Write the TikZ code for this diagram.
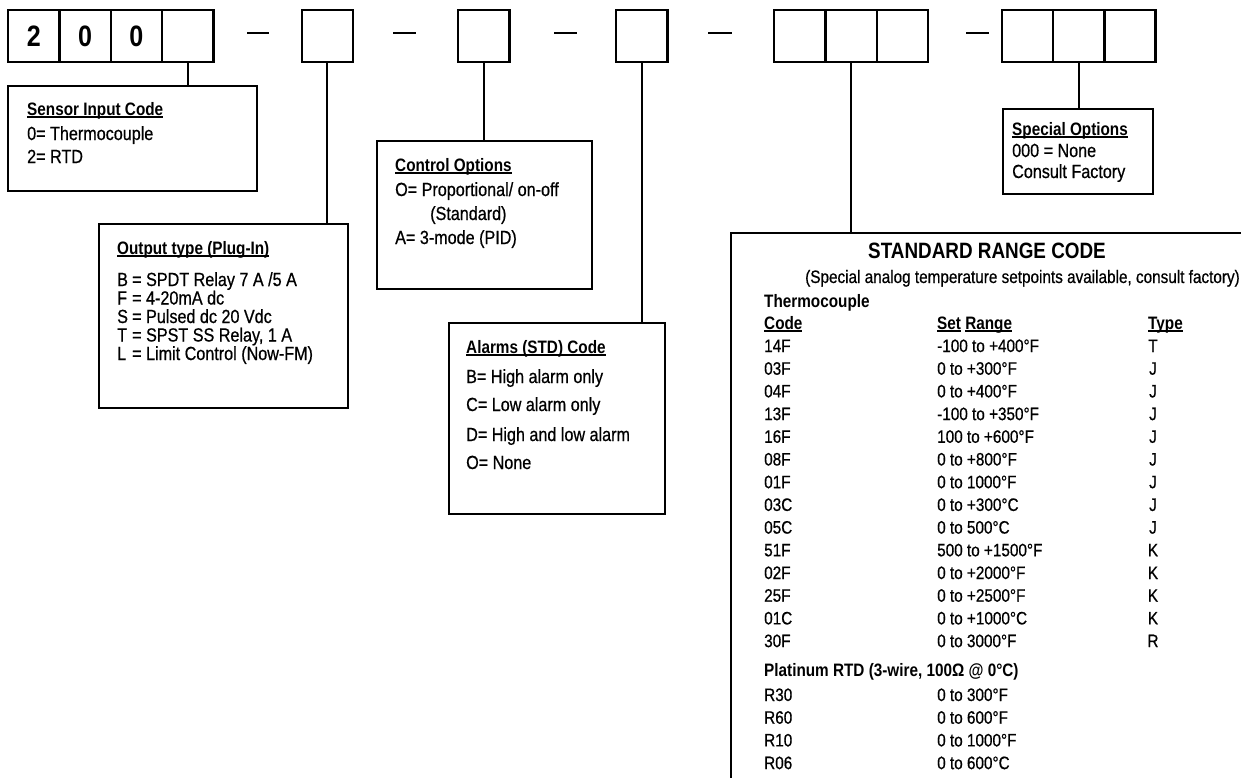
\documentclass[tikz,border=0pt]{standalone}
\usepackage{fontspec}
\setmainfont{Liberation Sans}[FakeStretch=0.85, UprightFeatures={FakeBold=0.6}]
\newcommand\myul[1]{\setbox0\hbox{#1}\rlap{\rule[-2.6pt]{\wd0}{1.4pt}}\box0\relax}
\begin{document}
\begin{tikzpicture}[x=1pt,y=-1pt,
  cell/.style={draw, line width=2.4pt, minimum width=51.3pt, minimum height=52pt, inner sep=0pt, anchor=north west, font=\fontsize{29.5}{32}\selectfont\bfseries},
  box/.style={draw, line width=2.4pt, inner sep=0pt, anchor=north west},
  conn/.style={line width=2pt},
  dashline/.style={line width=2.4pt},
  t/.style={anchor=base west, inner sep=0pt, font=\fontsize{19}{21}\selectfont},
  tb/.style={anchor=base west, inner sep=0pt, font=\fontsize{18}{21}\selectfont\bfseries},
  st/.style={anchor=base west, inner sep=0pt, font=\fontsize{18}{21}\selectfont},
  stb/.style={anchor=base west, inner sep=0pt, font=\fontsize{18}{21}\selectfont\bfseries}
]
\useasboundingbox (0,0) rectangle (1241,777);
\clip (0,0) rectangle (1241,777);
\fill[white] (0,0) rectangle (1241,777);

% code cells
\node[cell] (c11) at (7,9) {2};
\node[cell] (c12) at (58.3,9) {0};
\node[cell] (c13) at (109.6,9) {0};
\node[cell] (c14) at (160.9,9) {};
\node[cell] (c2) at (300.5,9) {};
\node[cell] (c3) at (457,9) {};
\node[cell] (c4) at (615,9) {};
\node[cell] (c51) at (773,9) {};
\node[cell] (c52) at (824.3,9) {};
\node[cell] (c53) at (875.6,9) {};
\node[cell] (c61) at (1000.5,9) {};
\node[cell] (c62) at (1051.8,9) {};
\node[cell] (c63) at (1103.1,9) {};

% dashes
\draw[dashline] (247,33) -- (269,33);
\draw[dashline] (393,33) -- (416,33);
\draw[dashline] (554,33) -- (577,33);
\draw[dashline] (708,33) -- (732,33);
\draw[dashline] (966,33) -- (989,33);

% boxes
\node[box, minimum width=249pt, minimum height=105pt] (sensor) at (7,85) {};
\node[box, minimum width=249pt, minimum height=184pt] (output) at (98,223) {};
\node[box, minimum width=215pt, minimum height=148pt] (control) at (376,140) {};
\node[box, minimum width=216pt, minimum height=191pt] (alarms) at (448,322) {};
\node[box, minimum width=150pt, minimum height=85pt] (special) at (1002,108) {};
\node[box, minimum width=600pt, minimum height=700pt] (standard) at (730,232) {};

% connectors
\draw[conn] (c14.south) -- (c14.south |- sensor.north);
\draw[conn] (c2.south) -- (c2.south |- output.north);
\draw[conn] (c3.south) -- (c3.south |- control.north);
\draw[conn] (c4.south) -- (c4.south |- alarms.north);
\draw[conn] (c52.south) -- (c52.south |- standard.north);
\draw[conn] (c62.south) -- (c62.south |- special.north);

% sensor text
\node[tb] (s0) at (27,115) {\myul{Sensor Input Code}};
\node[t] (s1) at (27,140) {0= Thermocouple};
\node[t] (s2) at (27,163) {2= RTD};

% output text
\node[tb] (o0) at (117,254) {\myul{Output type (Plug-In)}};
\node[t] (o1a) at (117,286) {B}; \node[t] (o1) at (132,286) {= SPDT Relay 7 A /5 A};
\node[t] (o2a) at (117,304.5) {F}; \node[t] (o2) at (132,304.5) {= 4-20mA dc};
\node[t] (o3a) at (117,323) {S}; \node[t] (o3) at (132,323) {= Pulsed dc 20 Vdc};
\node[t] (o4a) at (117,341.5) {T}; \node[t] (o4) at (132,341.5) {= SPST SS Relay, 1 A};
\node[t] (o5a) at (117,360) {L}; \node[t] (o5) at (132,360) {= Limit Control (Now-FM)};

% control text
\node[tb] (k0) at (395,171) {\myul{Control Options}};
\node[t] (k1) at (395,196) {O= Proportional/ on-off};
\node[t] (k2) at (430,220) {(Standard)};
\node[t] (k3) at (395,244) {A= 3-mode (PID)};

% alarms text
\node[tb] (a0) at (466,353) {\myul{Alarms (STD) Code}};
\node[t] (a1) at (466,383) {B= High alarm only};
\node[t] (a2) at (466,411) {C= Low alarm only};
\node[t] (a3) at (466,441) {D= High and low alarm};
\node[t] (a4) at (466,469) {O= None};

% special text
\node[tb] (p0) at (1012,135) {\myul{Special Options}};
\node[t] (p1) at (1012,157) {000 = None};
\node[t] (p2) at (1012,178) {Consult Factory};

% standard range code
\node[anchor=base, inner sep=0pt, font=\fontsize{22.2}{25}\selectfont\bfseries] (r0) at (987,258) {STANDARD RANGE CODE};
\node[st] (r1) at (805,283) {(Special analog temperature setpoints available, consult factory)};
\node[stb] (r2) at (764,307) {Thermocouple};
\node[stb] (hc) at (764,329) {\myul{Code}};
\node[stb] (hr) at (937,329) {\myul{Set} \myul{Range}};
\node[stb] (ht) at (1148,329) {\myul{Type}};
\foreach \c/\r/\ty [count=\i from 0] in {14F/-100 to +400°F/T, 03F/0 to +300°F/J, 04F/0 to +400°F/J, 13F/-100 to +350°F/J, 16F/100 to +600°F/J, 08F/0 to +800°F/J, 01F/0 to 1000°F/J, 03C/0 to +300°C/J, 05C/0 to 500°C/J, 51F/500 to +1500°F/K, 02F/0 to +2000°F/K, 25F/0 to +2500°F/K, 01C/0 to +1000°C/K, 30F/0 to 3000°F/R}{
  \pgfmathsetmacro\yy{352+22.7*\i}
  \node[st] (code\i) at (764,\yy) {\c};
  \node[st] (rng\i) at (937,\yy) {\r};
  \node[anchor=base, inner sep=0pt, font=\fontsize{18}{21}\selectfont] (typ\i) at (1153,\yy) {\ty};
}
\node[stb] (pl) at (764,676) {Platinum RTD (3-wire, 100Ω @ 0°C)};
\foreach \c/\r [count=\i from 0] in {R30/0 to 300°F, R60/0 to 600°F, R10/0 to 1000°F, R06/0 to 600°C}{
  \pgfmathsetmacro\yy{701+22.7*\i}
  \node[st] (rc\i) at (764,\yy) {\c};
  \node[st] (rr\i) at (937,\yy) {\r};
}
\end{tikzpicture}
\end{document}
